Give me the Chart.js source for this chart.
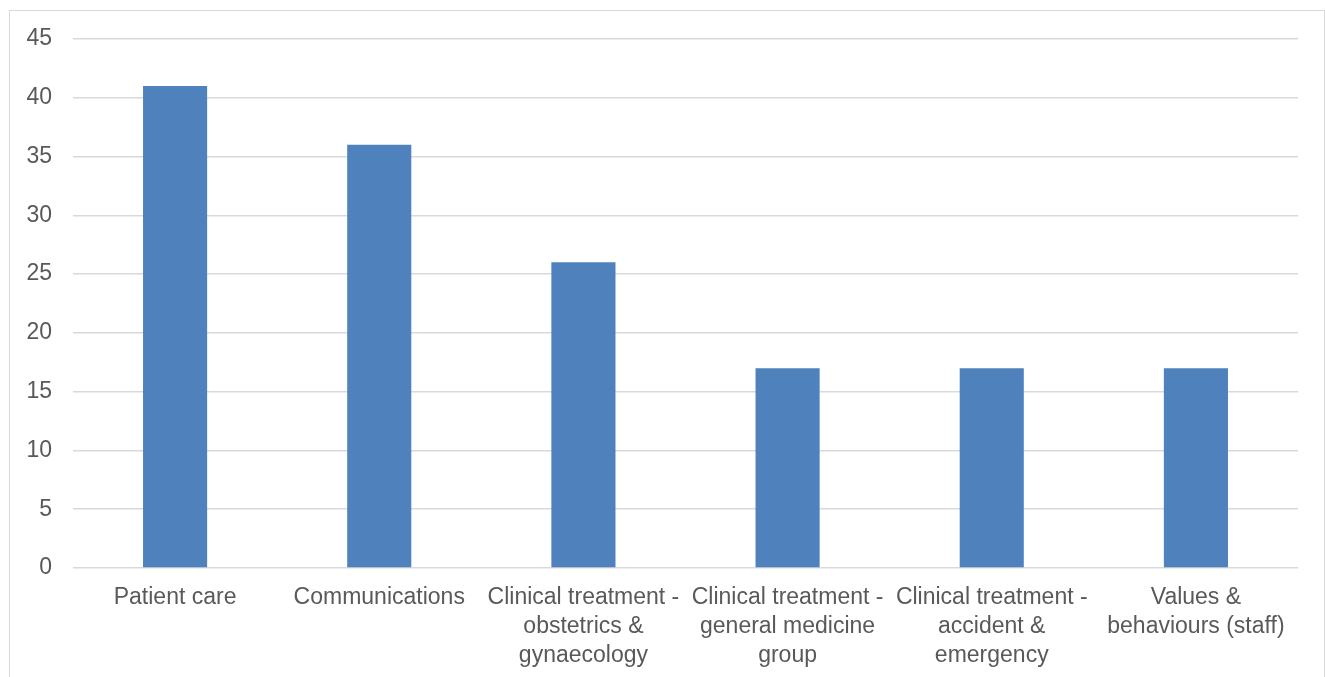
<!DOCTYPE html>
<html>
<head>
<meta charset="utf-8">
<script src="https://cdn.jsdelivr.net/npm/chart.js@4.4.0/dist/chart.umd.min.js"></script>
<style>
    html, body { margin: 0; padding: 0; background: #fff; overflow: hidden; }
    #frame {
        position: absolute; left: 9px; top: 10px;
        width: 1314px; height: 680px;
        border: 1px solid #d9d9d9;
        background: #fff;
    }
    #chart { display: block; }
</style>
</head>
<body>
<div id="frame"><canvas id="chart" width="1314" height="666"></canvas></div>
<script>
// Complaints by category
const categories = [
    'Patient care',
    'Communications',
    ['Clinical treatment -', 'obstetrics &', 'gynaecology'],
    ['Clinical treatment -', 'general medicine', 'group'],
    ['Clinical treatment -', 'accident &', 'emergency'],
    ['Values &', 'behaviours (staff)']
];
const counts = [41, 36, 26, 17, 17, 17];
const yTicks = [0, 5, 10, 15, 20, 25, 30, 35, 40, 45];

const textColor = '#595959';
const fontFamily = "'Liberation Sans', Arial, sans-serif";

const ctx = document.getElementById('chart');
new Chart(ctx, {
    type: 'bar',
    data: {
        labels: categories,
        datasets: [{
            data: counts,
            backgroundColor: '#4f81bd',
            borderWidth: 0,
            barPercentage: 0.314,
            categoryPercentage: 1
        }]
    },
    options: {
        responsive: false,
        animation: false,
        layout: { padding: { top: 28, right: 26, left: 0, bottom: 0 } },
        plugins: {
            legend: { display: false },
            tooltip: { enabled: false }
        },
        scales: {
            x: {
                grid: { display: false, drawTicks: false },
                border: { display: false },
                ticks: {
                    color: textColor,
                    font: { family: fontFamily, size: 23, lineHeight: 1.26 },
                    maxRotation: 0,
                    autoSkip: false,
                    padding: 15
                },
                afterFit: (axis) => { axis.height = 109; }
            },
            y: {
                min: 0,
                max: 45,
                afterBuildTicks: (axis) => { axis.ticks = yTicks.map(v => ({ value: v })); },
                grid: { color: '#d9d9d9', lineWidth: 1.5, drawTicks: false },
                border: { display: false },
                ticks: {
                    color: textColor,
                    font: { family: fontFamily, size: 23 },
                    padding: 21
                },
                afterFit: (axis) => {
                    axis.width = 63;
                    axis.paddingTop = 0;
                    axis.paddingBottom = 0;
                }
            }
        }
    }
});
</script>
</body>
</html>
